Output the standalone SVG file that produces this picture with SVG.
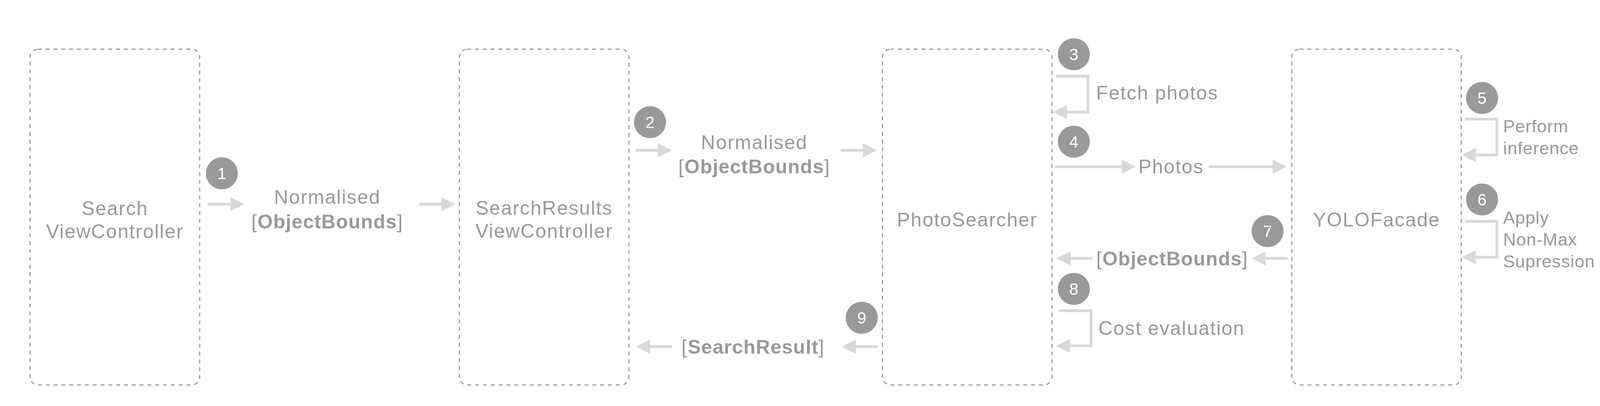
<svg xmlns="http://www.w3.org/2000/svg" width="4404" height="1040" viewBox="0 0 4404 1040">
<style>
.box{fill:none;stroke:#999999;stroke-width:3;stroke-dasharray:10 10}
.t{font-family:"Liberation Sans",Arial,sans-serif;font-size:50px;fill:#999999;letter-spacing:2px}
.s{font-size:45px;letter-spacing:1px}
.c{text-anchor:middle}
.b{font-weight:bold;letter-spacing:1.3px}
.badge{fill:#999999}
.n{font-family:"Liberation Sans",Arial,sans-serif;font-size:42px;fill:#ffffff;text-anchor:middle}
.con{fill:none;stroke:#d8d8d8;stroke-width:7;stroke-linejoin:miter;marker-end:url(#ah)}
</style>
<defs>
<marker id="ah" markerUnits="userSpaceOnUse" markerWidth="36" markerHeight="36" refX="0" refY="18" orient="auto" viewBox="0 0 36 36">
<path d="M0,0 L36,18 L0,36 z" fill="#d8d8d8"/>
</marker>
</defs>
<rect width="4404" height="1040" fill="#ffffff"/>

<g id="connectors">
<path class="con" d="M532 523 H590"/>
<path class="con" d="M1073 523 H1130"/>
<path class="con" d="M1627 385 H1684"/>
<path class="con" d="M2152 385 H2209"/>
<path class="con" d="M2703 195 H2785 V287 H2731"/>
<path class="con" d="M2701 427 H2872"/>
<path class="con" d="M3094 427 H3258"/>
<path class="con" d="M3750 305 H3832 V397 H3778"/>
<path class="con" d="M3750 567 H3832 V659 H3778"/>
<path class="con" d="M3296 662 H3240"/>
<path class="con" d="M2797 662 H2741"/>
<path class="con" d="M2711 796 H2793 V886 H2739"/>
<path class="con" d="M2247 888 H2191"/>
<path class="con" d="M1720 888 H1664"/>
</g>

<g id="labels">
<text class="t c" x="838" y="522">Normalised</text>
<text class="t c" x="838" y="585">[<tspan class="b">ObjectBounds</tspan>]</text>
<text class="t c" x="1931" y="382">Normalised</text>
<text class="t c" x="1931" y="444">[<tspan class="b">ObjectBounds</tspan>]</text>
<text class="t" x="2806" y="255">Fetch photos</text>
<text class="t c" x="2998" y="444">Photos</text>
<text class="t s" x="3848" y="339">Perform</text>
<text class="t s" x="3848" y="395">inference</text>
<text class="t s" x="3848" y="573">Apply</text>
<text class="t s" x="3848" y="629">Non-Max</text>
<text class="t s" x="3848" y="685">Supression</text>
<text class="t c" x="3001" y="680">[<tspan class="b">ObjectBounds</tspan>]</text>
<text class="t" x="2812" y="858">Cost evaluation</text>
<text class="t c" x="1928" y="906">[<tspan class="b">SearchResult</tspan>]</text>
</g>

<g id="badges">
<g id="badge1"><circle class="badge" cx="568" cy="444" r="41"/><text class="n" x="568" y="459">1</text></g>
<g id="badge2"><circle class="badge" cx="1664" cy="313" r="41"/><text class="n" x="1664" y="328">2</text></g>
<g id="badge3"><circle class="badge" cx="2749" cy="139" r="41"/><text class="n" x="2749" y="154">3</text></g>
<g id="badge4"><circle class="badge" cx="2749" cy="363" r="41"/><text class="n" x="2749" y="378">4</text></g>
<g id="badge5"><circle class="badge" cx="3794" cy="251" r="41"/><text class="n" x="3794" y="266">5</text></g>
<g id="badge6"><circle class="badge" cx="3794" cy="511" r="41"/><text class="n" x="3794" y="526">6</text></g>
<g id="badge7"><circle class="badge" cx="3245" cy="592" r="41"/><text class="n" x="3245" y="607">7</text></g>
<g id="badge8"><circle class="badge" cx="2749" cy="740" r="41"/><text class="n" x="2749" y="755">8</text></g>
<g id="badge9"><circle class="badge" cx="2206" cy="814" r="41"/><text class="n" x="2206" y="829">9</text></g>
</g>

<g id="node-search-vc">
<rect class="box" x="77" y="126" width="434" height="860" rx="20" ry="20"/>
<text class="t c" x="294" y="551">Search</text>
<text class="t c" x="294" y="610">ViewController</text>
</g>
<g id="node-searchresults-vc">
<rect class="box" x="1176" y="126" width="434" height="860" rx="20" ry="20"/>
<text class="t c" x="1393" y="550">SearchResults</text>
<text class="t c" x="1393" y="609">ViewController</text>
</g>
<g id="node-photosearcher">
<rect class="box" x="2259" y="126" width="434" height="860" rx="20" ry="20"/>
<text class="t c" x="2476" y="580">PhotoSearcher</text>
</g>
<g id="node-yolofacade">
<rect class="box" x="3307" y="126" width="434" height="860" rx="20" ry="20"/>
<text class="t c" x="3524" y="580">YOLOFacade</text>
</g>
</svg>
